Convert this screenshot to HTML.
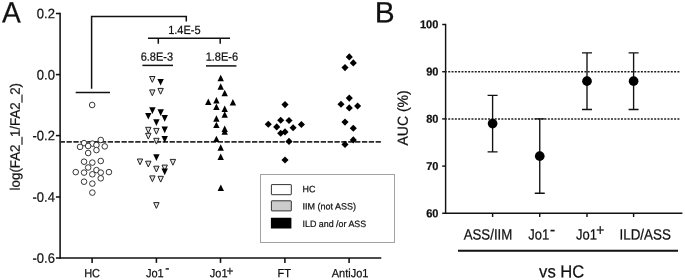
<!DOCTYPE html>
<html><head><meta charset="utf-8"><title>Figure</title>
<style>
html,body{margin:0;padding:0;background:#fff;}
body{width:685px;height:280px;overflow:hidden;font-family:"Liberation Sans",sans-serif;}
svg{display:block;will-change:transform;text-rendering:geometricPrecision;font-family:"Liberation Sans",sans-serif;}
text{fill:#111;stroke:#111;stroke-width:0.22px;}
</style></head><body>
<svg width="685" height="280" viewBox="0 0 685 280">
<rect width="685" height="280" fill="#fff"/>

<text transform="translate(2,22.45) rotate(0.03) scale(1.0,1.05)" font-size="28.2" text-anchor="start" fill="#262626" stroke="#262626" stroke-width="0.1">A</text>
<text transform="translate(374.8,22.45) rotate(0.03) scale(1.06,1.05)" font-size="28.2" text-anchor="start" fill="#262626" stroke="#262626" stroke-width="0.1">B</text>
<g stroke="#111" stroke-width="1.55" fill="none" stroke-linecap="butt">
<path d="M60.1 12.8V258.7"/>
<path d="M59.4 258H381.3"/>
<path d="M55.9 13.5 H60.1"/>
<path d="M55.9 74.6 H60.1"/>
<path d="M55.9 135.6 H60.1"/>
<path d="M55.9 197 H60.1"/>
<path d="M55.9 258 H60.1"/>
<path d="M92.1 258V262.9"/>
<path d="M156.4 258V262.9"/>
<path d="M220.5 258V262.9"/>
<path d="M284.9 258V262.9"/>
<path d="M349.1 258V262.9"/>
</g>
<text transform="translate(54.9,18.25) rotate(0.03) scale(1.0,1.06)" font-size="13" text-anchor="end">0.2</text>
<text transform="translate(54.9,79.45) rotate(0.03) scale(1.0,1.06)" font-size="13" text-anchor="end">0.0</text>
<text transform="translate(54.9,140.35) rotate(0.03) scale(1.0,1.06)" font-size="13" text-anchor="end">-0.2</text>
<text transform="translate(54.9,201.75) rotate(0.03) scale(1.0,1.06)" font-size="13" text-anchor="end">-0.4</text>
<text transform="translate(54.9,262.75) rotate(0.03) scale(1.0,1.06)" font-size="13" text-anchor="end">-0.6</text>
<text transform="translate(19.8,136.7) rotate(-89.97) scale(1.025,1.05)" font-size="13" text-anchor="middle">log(FA2_1/FA2_2)</text>
<text transform="translate(92.1,277.15) rotate(0.03) scale(1.0,1.09)" font-size="11" text-anchor="middle">HC</text>
<text transform="translate(146,277.15) rotate(0.03) scale(1.0,1.09)" font-size="11" text-anchor="start">Jo1<tspan dy="-4.2" dx="1.6" font-size="12.5">-</tspan></text>
<text transform="translate(209.8,277.15) rotate(0.03) scale(1.0,1.09)" font-size="11" text-anchor="start">Jo1<tspan dy="-1.7" dx="-1.0" font-size="11.6">+</tspan></text>
<text transform="translate(284.2,277.15) rotate(0.03) scale(1.0,1.09)" font-size="11" text-anchor="middle">FT</text>
<text transform="translate(350.1,277.15) rotate(0.03) scale(1.0,1.09)" font-size="11" text-anchor="middle">AntiJo1</text>
<path d="M59.65 141.85H380.9" stroke="#2a2a2a" stroke-width="1.85" stroke-dasharray="5.32 1.55" fill="none"/>
<g stroke="#111" stroke-width="1.5" fill="none">
<path d="M91.6 88.8V16.5H186.3V21.6"/>
<path d="M75.7 92.6H110"/>
<path d="M148 38.3H230"/>
<path d="M158.3 38.3V43.8M220.2 38.3V43.8"/>
<path d="M142.4 65.4H173"/>
<path d="M206 65.9H236.4"/>
</g>
<text transform="translate(184.4,33.9) rotate(0.03) scale(1.0,1.09)" font-size="11" text-anchor="middle">1.4E-5</text>
<text transform="translate(156.9,60.85) rotate(0.03) scale(1.0,1.09)" font-size="11" text-anchor="middle">6.8E-3</text>
<text transform="translate(221.9,60.85) rotate(0.03) scale(1.0,1.09)" font-size="11" text-anchor="middle">1.8E-6</text>
<g stroke="#222" stroke-width="0.9" fill="#fff">
<circle cx="92.15" cy="105" r="2.8"/>
<circle cx="100.75" cy="140" r="2.8"/>
<circle cx="84.05" cy="143.1" r="2.8"/>
<circle cx="92.35" cy="143.6" r="2.8"/>
<circle cx="80.05" cy="146.9" r="2.8"/>
<circle cx="88.15" cy="146" r="2.8"/>
<circle cx="96.45" cy="145" r="2.8"/>
<circle cx="104.75" cy="146.4" r="2.8"/>
<circle cx="96.45" cy="150.1" r="2.8"/>
<circle cx="88.15" cy="153" r="2.8"/>
<circle cx="84.05" cy="161.7" r="2.8"/>
<circle cx="92.35" cy="162.6" r="2.8"/>
<circle cx="100.75" cy="161" r="2.8"/>
<circle cx="88.15" cy="167.5" r="2.8"/>
<circle cx="96.45" cy="170.1" r="2.8"/>
<circle cx="75.75" cy="172.1" r="2.8"/>
<circle cx="84.05" cy="172.6" r="2.8"/>
<circle cx="92.35" cy="174.3" r="2.8"/>
<circle cx="100.75" cy="172.6" r="2.8"/>
<circle cx="108.95" cy="172.1" r="2.8"/>
<circle cx="100.75" cy="178.3" r="2.8"/>
<circle cx="84.05" cy="181.7" r="2.8"/>
<circle cx="92.35" cy="183.6" r="2.8"/>
<circle cx="92.35" cy="192.6" r="2.8"/>
</g>
<polygon points="149.6,76.5 155,76.5 152.3,82.3" fill="#e4e4e4" stroke="#222" stroke-width="1"/>
<polygon points="157.4,78.9 163.8,78.9 160.6,85.6" fill="#000"/>
<polygon points="149.6,89.9 155,89.9 152.3,95.7" fill="#e4e4e4" stroke="#222" stroke-width="1"/>
<polygon points="157.9,88.4 163.3,88.4 160.6,94.2" fill="#e4e4e4" stroke="#222" stroke-width="1"/>
<polygon points="149.2,107.2 155.6,107.2 152.4,113.9" fill="#000"/>
<polygon points="157.5,109.2 163.9,109.2 160.7,115.9" fill="#000"/>
<polygon points="145.1,112.9 151.5,112.9 148.3,119.6" fill="#000"/>
<polygon points="161.5,115 167.9,115 164.7,121.7" fill="#000"/>
<polygon points="153.2,119.3 159.6,119.3 156.4,126" fill="#000"/>
<polygon points="161.5,126.5 167.9,126.5 164.7,133.2" fill="#000"/>
<polygon points="145.6,127.3 151,127.3 148.3,133.1" fill="#e4e4e4" stroke="#222" stroke-width="1"/>
<polygon points="153.7,128.4 159.1,128.4 156.4,134.2" fill="#e4e4e4" stroke="#222" stroke-width="1"/>
<polygon points="145.6,133.3 151,133.3 148.3,139.1" fill="#e4e4e4" stroke="#222" stroke-width="1"/>
<polygon points="161.5,136.1 167.9,136.1 164.7,142.8" fill="#000"/>
<polygon points="153.7,138.3 159.1,138.3 156.4,144.1" fill="#e4e4e4" stroke="#222" stroke-width="1"/>
<polygon points="153.2,154.3 159.6,154.3 156.4,161" fill="#000"/>
<polygon points="137.3,159 142.7,159 140,164.8" fill="#e4e4e4" stroke="#222" stroke-width="1"/>
<polygon points="145.6,161.2 151,161.2 148.3,167" fill="#e4e4e4" stroke="#222" stroke-width="1"/>
<polygon points="170.2,159.4 175.6,159.4 172.9,165.2" fill="#e4e4e4" stroke="#222" stroke-width="1"/>
<polygon points="153.7,166.2 159.1,166.2 156.4,172" fill="#e4e4e4" stroke="#222" stroke-width="1"/>
<polygon points="162,165.1 167.4,165.1 164.7,170.9" fill="#e4e4e4" stroke="#222" stroke-width="1"/>
<polygon points="161.5,168.5 167.9,168.5 164.7,175.2" fill="#000"/>
<polygon points="149.7,175.9 155.1,175.9 152.4,181.7" fill="#e4e4e4" stroke="#222" stroke-width="1"/>
<polygon points="158,176.3 163.4,176.3 160.7,182.1" fill="#e4e4e4" stroke="#222" stroke-width="1"/>
<polygon points="153.7,202.6 159.1,202.6 156.4,208.4" fill="#e4e4e4" stroke="#222" stroke-width="1"/>
<polygon points="217.5,81.2 223.9,81.2 220.7,74.75" fill="#000"/>
<polygon points="217.5,89.8 223.9,89.8 220.7,83.35" fill="#000"/>
<polygon points="221.5,96.2 227.9,96.2 224.7,89.75" fill="#000"/>
<polygon points="205.1,105 211.5,105 208.3,98.55" fill="#000"/>
<polygon points="213.2,103.4 219.6,103.4 216.4,96.95" fill="#000"/>
<polygon points="229.7,105.5 236.1,105.5 232.9,99.05" fill="#000"/>
<polygon points="213.2,110 219.6,110 216.4,103.55" fill="#000"/>
<polygon points="221.5,112 227.9,112 224.7,105.55" fill="#000"/>
<polygon points="221.5,117.7 227.9,117.7 224.7,111.25" fill="#000"/>
<polygon points="213.2,121.7 219.6,121.7 216.4,115.25" fill="#000"/>
<polygon points="213.2,128.1 219.6,128.1 216.4,121.65" fill="#000"/>
<polygon points="221.5,131.9 227.9,131.9 224.7,125.45" fill="#000"/>
<polygon points="221.5,134.8 227.9,134.8 224.7,128.35" fill="#000"/>
<polygon points="213.2,142.1 219.6,142.1 216.4,135.65" fill="#000"/>
<polygon points="217.5,150.7 223.9,150.7 220.7,144.25" fill="#000"/>
<polygon points="217.5,160 223.9,160 220.7,153.55" fill="#000"/>
<polygon points="217.6,191 224,191 220.8,184.55" fill="#000"/>
<polygon points="285,101.05 288.55,104.6 285,108.15 281.45,104.6" fill="#000"/>
<polygon points="280.7,116.65 284.25,120.2 280.7,123.75 277.15,120.2" fill="#000"/>
<polygon points="289,116.95 292.55,120.5 289,124.05 285.45,120.5" fill="#000"/>
<polygon points="268.3,120.65 271.85,124.2 268.3,127.75 264.75,124.2" fill="#000"/>
<polygon points="301.4,120.95 304.95,124.5 301.4,128.05 297.85,124.5" fill="#000"/>
<polygon points="276.7,123.35 280.25,126.9 276.7,130.45 273.15,126.9" fill="#000"/>
<polygon points="293.1,124.15 296.65,127.7 293.1,131.25 289.55,127.7" fill="#000"/>
<polygon points="280.7,129.75 284.25,133.3 280.7,136.85 277.15,133.3" fill="#000"/>
<polygon points="285,128.35 288.55,131.9 285,135.45 281.45,131.9" fill="#000"/>
<polygon points="289,137.85 292.55,141.4 289,144.95 285.45,141.4" fill="#000"/>
<polygon points="285,156.45 288.55,160 285,163.55 281.45,160" fill="#000"/>
<polygon points="349.3,53.35 352.85,56.9 349.3,60.45 345.75,56.9" fill="#000"/>
<polygon points="353.3,59.35 356.85,62.9 353.3,66.45 349.75,62.9" fill="#000"/>
<polygon points="345,64.05 348.55,67.6 345,71.15 341.45,67.6" fill="#000"/>
<polygon points="349.3,94.55 352.85,98.1 349.3,101.65 345.75,98.1" fill="#000"/>
<polygon points="341,100.75 344.55,104.3 341,107.85 337.45,104.3" fill="#000"/>
<polygon points="357.6,102.45 361.15,106 357.6,109.55 354.05,106" fill="#000"/>
<polygon points="349.3,104.35 352.85,107.9 349.3,111.45 345.75,107.9" fill="#000"/>
<polygon points="345,118.55 348.55,122.1 345,125.65 341.45,122.1" fill="#000"/>
<polygon points="353.3,124.75 356.85,128.3 353.3,131.85 349.75,128.3" fill="#000"/>
<polygon points="353.3,136.35 356.85,139.9 353.3,143.45 349.75,139.9" fill="#000"/>
<polygon points="345,140.85 348.55,144.4 345,147.95 341.45,144.4" fill="#000"/>
<rect x="260.5" y="174.5" width="134" height="68" fill="#fff" stroke="#a2a2a2" stroke-width="1"/>
<rect x="271.4" y="184.6" width="19.9" height="10.1" rx="0.4" fill="#fff" stroke="#333" stroke-width="1"/>
<rect x="271.4" y="200.8" width="19.9" height="10.1" rx="0.4" fill="#ccc" stroke="#333" stroke-width="1"/>
<rect x="270.9" y="217.8" width="20.5" height="10.8" rx="0.3" fill="#000"/>
<text transform="translate(302.5,192.3) rotate(0.03) scale(1.0,1.04)" font-size="8.9" text-anchor="start">HC</text>
<text transform="translate(302.5,209.5) rotate(0.03) scale(1.015,1.04)" font-size="8.9" text-anchor="start">IIM (not ASS)</text>
<text transform="translate(302.5,226.9) rotate(0.03) scale(1.0,1.04)" font-size="8.9" text-anchor="start">ILD and /or ASS</text>
<g stroke="#111" stroke-width="1.45" fill="none">
<path d="M445.6 23.8V214"/>
<path d="M442.2 213.3H682.4"/>
<path d="M442.2 24.5 H445.6"/>
<path d="M442.2 71.7 H445.6"/>
<path d="M442.2 118.9 H445.6"/>
<path d="M442.2 166.1 H445.6"/>
<path d="M492.6 213.3V217"/>
<path d="M539.7 213.3V217"/>
<path d="M587 213.3V217"/>
<path d="M633.6 213.3V217"/>
</g>
<path d="M444.88 71.75 H679.6" stroke="#222" stroke-width="1.5" stroke-dasharray="2 1.322" fill="none"/>
<path d="M444.88 118.95 H679.6" stroke="#222" stroke-width="1.5" stroke-dasharray="2 1.322" fill="none"/>
<text transform="translate(438.4,28.35) rotate(0.03) scale(1.05,1.09)" font-size="10.5" text-anchor="end" font-weight="bold" stroke="#111" stroke-width="0.2">100</text>
<text transform="translate(438.4,75.55) rotate(0.03) scale(1.05,1.09)" font-size="10.5" text-anchor="end" font-weight="bold" stroke="#111" stroke-width="0.2">90</text>
<text transform="translate(438.4,122.75) rotate(0.03) scale(1.05,1.09)" font-size="10.5" text-anchor="end" font-weight="bold" stroke="#111" stroke-width="0.2">80</text>
<text transform="translate(438.4,169.95) rotate(0.03) scale(1.05,1.09)" font-size="10.5" text-anchor="end" font-weight="bold" stroke="#111" stroke-width="0.2">70</text>
<text transform="translate(438.4,217.15) rotate(0.03) scale(1.05,1.09)" font-size="10.5" text-anchor="end" font-weight="bold" stroke="#111" stroke-width="0.2">60</text>
<text transform="translate(407.8,117.9) rotate(-89.97) scale(1.0,1.04)" font-size="14" text-anchor="middle">AUC (%)</text>
<g stroke="#111" stroke-width="1.35" fill="none">
<path d="M492.6 95.3 V151.94 M487.6 95.3 H497.6 M487.6 151.94 H497.6"/>
<path d="M539.75 118.9 V193.24 M534.75 118.9 H544.75 M534.75 193.24 H544.75"/>
<path d="M587 52.82 V109.46 M582 52.82 H592 M582 109.46 H592"/>
<path d="M633.6 52.82 V109.46 M628.6 52.82 H638.6 M628.6 109.46 H638.6"/>
</g>
<circle cx="492.6" cy="123.62" r="4.85" fill="#000"/>
<circle cx="539.75" cy="156.19" r="4.85" fill="#000"/>
<circle cx="587" cy="81.14" r="4.85" fill="#000"/>
<circle cx="633.6" cy="81.14" r="4.85" fill="#000"/>
<text transform="translate(488,239.4) rotate(0.03) scale(1.02,1.14)" font-size="13" text-anchor="middle">ASS/IIM</text>
<text transform="translate(528.3,239.4) rotate(0.03) scale(1.0,1.14)" font-size="13" text-anchor="start">Jo1<tspan dy="-3.6" dx="0.8" font-size="15.5">-</tspan></text>
<text transform="translate(575.9,239.4) rotate(0.03) scale(1.0,1.14)" font-size="13" text-anchor="start">Jo1<tspan dy="-3.6" dx="-0.6" font-size="13.8">+</tspan></text>
<text transform="translate(645.2,239.4) rotate(0.03) scale(1.03,1.14)" font-size="13" text-anchor="middle">ILD/ASS</text>
<path d="M458 250.7H678" stroke="#111" stroke-width="1.85" fill="none"/>
<text transform="translate(561.7,277.4) rotate(0.03) scale(1.02,1.08)" font-size="16.3" text-anchor="middle">vs HC</text>
</svg>
</body></html>
